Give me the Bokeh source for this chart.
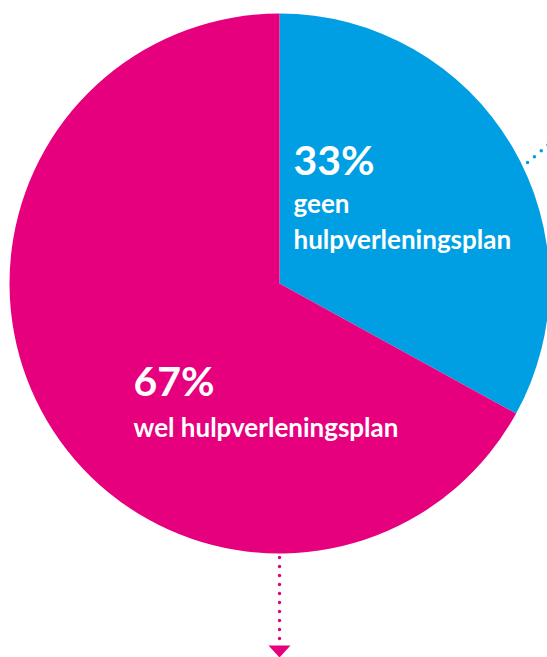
import numpy as np
from bokeh.plotting import figure
from bokeh.models import Range1d, ColumnDataSource
from bokeh.core.properties import value
from bokeh.embed import file_html
from bokeh.resources import INLINE

# data
categories = ["geen hulpverleningsplan", "wel hulpverleningsplan"]
percent = [33, 67]
labels_pct = ["33%", "67%"]
colors = ["#009FE3", "#E6007E"]

W, H = 547, 657
CX, CY, R = 279, H - 283, 270

p = figure(width=W, height=H, output_backend="svg", toolbar_location=None,
           x_range=Range1d(0, W), y_range=Range1d(0, H), min_border=0,
           outline_line_color=None, background_fill_color="white")
p.axis.visible = False
p.grid.visible = False

frac = np.array(percent, dtype=float) / sum(percent)
ends = np.cumsum(frac)
starts = ends - frac
src = ColumnDataSource(dict(
    start=np.pi / 2 - starts * 2 * np.pi,
    end=np.pi / 2 - ends * 2 * np.pi,
    color=colors,
))
p.wedge(x=CX, y=CY, radius=R, start_angle="start", end_angle="end",
        direction="clock", fill_color="color", line_color=None, source=src)

# dotted connector top-right (blue)
a = np.deg2rad(64)
sx, sy = CX + 276 * np.sin(a), CY + 276 * np.cos(a)
d = np.array([0.76, 0.65])
p.line([sx, sx + 40 * d[0]], [sy, sy + 40 * d[1]], line_color=colors[0],
       line_width=3.5, line_dash="0 9", line_cap="round")

# dotted connector bottom (magenta) with arrow
top_y = CY - R - 4
p.line([CX, CX], [top_y, H - 640], line_color=colors[1], line_width=3.5,
       line_dash="0 9", line_cap="round")
p.patch([CX - 11, CX + 11, CX], [H - 645, H - 645, H - 657],
        fill_color=colors[1], line_color=None)

font = value("Lato")
BIG, SMALL = 41, 26
# labels
p.text(x=[293], y=[H - 159], text=[labels_pct[0]], text_font=font,
       text_font_style="bold", text_font_size=f"{BIG}px", text_color="white",
       text_baseline="alphabetic")
p.text(x=[293, 293], y=[H - 202.5, H - 238.5], text=["geen", "hulpverleningsplan"],
       text_font=font, text_font_style="bold", text_font_size=f"{SMALL}px",
       text_color="white", text_baseline="alphabetic")
p.text(x=[133], y=[H - 380], text=[labels_pct[1]], text_font=font,
       text_font_style="bold", text_font_size=f"{BIG}px", text_color="white",
       text_baseline="alphabetic")
p.text(x=[133], y=[H - 426.5], text=["wel hulpverleningsplan"],
       text_font=font, text_font_style="bold", text_font_size=f"{SMALL}px",
       text_color="white", text_baseline="alphabetic")

open("out.html", "w").write(file_html(p, INLINE))
